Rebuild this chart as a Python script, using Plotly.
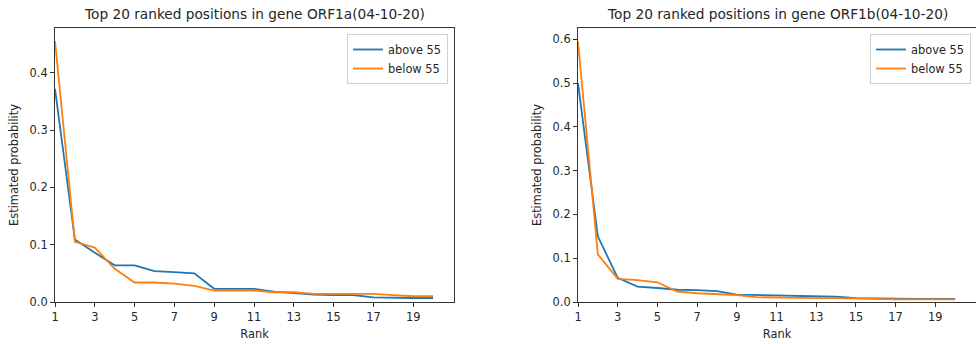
import plotly.graph_objects as go

ranks = list(range(1, 21))
orf1a_above = [0.372, 0.109, 0.086, 0.064, 0.064, 0.054, 0.052, 0.050, 0.023, 0.023,
               0.023, 0.018, 0.015, 0.013, 0.012, 0.012, 0.008, 0.007, 0.007, 0.007]
orf1a_below = [0.455, 0.105, 0.095, 0.058, 0.034, 0.034, 0.032, 0.028, 0.020, 0.020,
               0.020, 0.017, 0.017, 0.014, 0.014, 0.014, 0.014, 0.012, 0.010, 0.010]
orf1b_above = [0.50, 0.150, 0.055, 0.035, 0.032, 0.028, 0.027, 0.025, 0.017, 0.016,
               0.015, 0.014, 0.013, 0.012, 0.009, 0.008, 0.007, 0.007, 0.007, 0.007]
orf1b_below = [0.595, 0.109, 0.053, 0.050, 0.045, 0.024, 0.020, 0.018, 0.016, 0.011,
               0.010, 0.010, 0.009, 0.009, 0.008, 0.006, 0.006, 0.006, 0.006, 0.006]
series_names = ["above 55", "below 55"]
titles = ["Top 20 ranked positions in gene ORF1a(04-10-20)",
          "Top 20 ranked positions in gene ORF1b(04-10-20)"]
x_ticks = [1, 3, 5, 7, 9, 11, 13, 15, 17, 19]
y_ticks_a = [0.0, 0.1, 0.2, 0.3, 0.4]
y_ticks_b = [0.0, 0.1, 0.2, 0.3, 0.4, 0.5, 0.6]

BLUE = "#1f77b4"
ORANGE = "#ff7f0e"
FONT = "DejaVu Sans"
TXT = "#262626"
FS = 11.4
LW = 1.8

fig = go.Figure()
fig.add_trace(go.Scatter(x=ranks, y=orf1a_above, mode="lines", name=series_names[0],
                         line=dict(color=BLUE, width=LW), xaxis="x", yaxis="y", legend="legend"))
fig.add_trace(go.Scatter(x=ranks, y=orf1a_below, mode="lines", name=series_names[1],
                         line=dict(color=ORANGE, width=LW), xaxis="x", yaxis="y", legend="legend"))
fig.add_trace(go.Scatter(x=ranks, y=orf1b_above, mode="lines", name=series_names[0],
                         line=dict(color=BLUE, width=LW), xaxis="x2", yaxis="y2", legend="legend2"))
fig.add_trace(go.Scatter(x=ranks, y=orf1b_below, mode="lines", name=series_names[1],
                         line=dict(color=ORANGE, width=LW), xaxis="x2", yaxis="y2", legend="legend2"))

W, H = 976, 344
ydom = [(H - 302) / H, (H - 28) / H]
ax_common = dict(showgrid=False, zeroline=False, showline=True, mirror=True, automargin=False,
                 linecolor="#333333", linewidth=1, ticks="outside", ticklen=4,
                 tickcolor="#333333", tickfont=dict(family=FONT, size=FS, color=TXT))

legend_common = dict(font=dict(family=FONT, size=FS, color=TXT), bgcolor="rgba(255,255,255,0.8)",
                     bordercolor="#d0d0d0", borderwidth=1, xanchor="right", yanchor="top",
                     tracegroupgap=0, itemwidth=30)
xtitle = dict(text="Rank", font=dict(family=FONT, size=FS, color=TXT), standoff=7)
ytitle = dict(text="Estimated probability", font=dict(family=FONT, size=FS, color=TXT), standoff=8)

fig.update_layout(
    width=W, height=H,
    margin=dict(l=0, r=0, t=0, b=0),
    paper_bgcolor="white", plot_bgcolor="white",
    font=dict(family=FONT, color=TXT),
    xaxis=dict(domain=[55 / W, 454 / W], range=[1, 21.05], tickvals=x_ticks,
               title=xtitle, anchor="y", **ax_common),
    yaxis=dict(domain=ydom, range=[0, 0.478], tickvals=y_ticks_a, tickformat=".1f",
               title=ytitle, anchor="x", **ax_common),
    xaxis2=dict(domain=[578 / W, 1.0], range=[1, 21.05], tickvals=x_ticks,
                title=xtitle, anchor="y2", **ax_common),
    yaxis2=dict(domain=ydom, range=[0, 0.626], tickvals=y_ticks_b, tickformat=".1f",
                title=ytitle, anchor="x2", **ax_common),
    legend=dict(x=448 / W, y=(H - 34) / H, **legend_common),
    legend2=dict(x=971 / W, y=(H - 34) / H, **legend_common),
    annotations=[
        dict(text=titles[0], x=(55 + 454) / 2 / W, y=(H - 14) / H, xref="paper", yref="paper",
             showarrow=False, xanchor="center", yanchor="middle",
             font=dict(family=FONT, size=13.7, color=TXT)),
        dict(text=titles[1], x=(578 + 977) / 2 / W, y=(H - 14) / H, xref="paper", yref="paper",
             showarrow=False, xanchor="center", yanchor="middle",
             font=dict(family=FONT, size=13.7, color=TXT)),
    ],
)

fig.write_html("out.html")
